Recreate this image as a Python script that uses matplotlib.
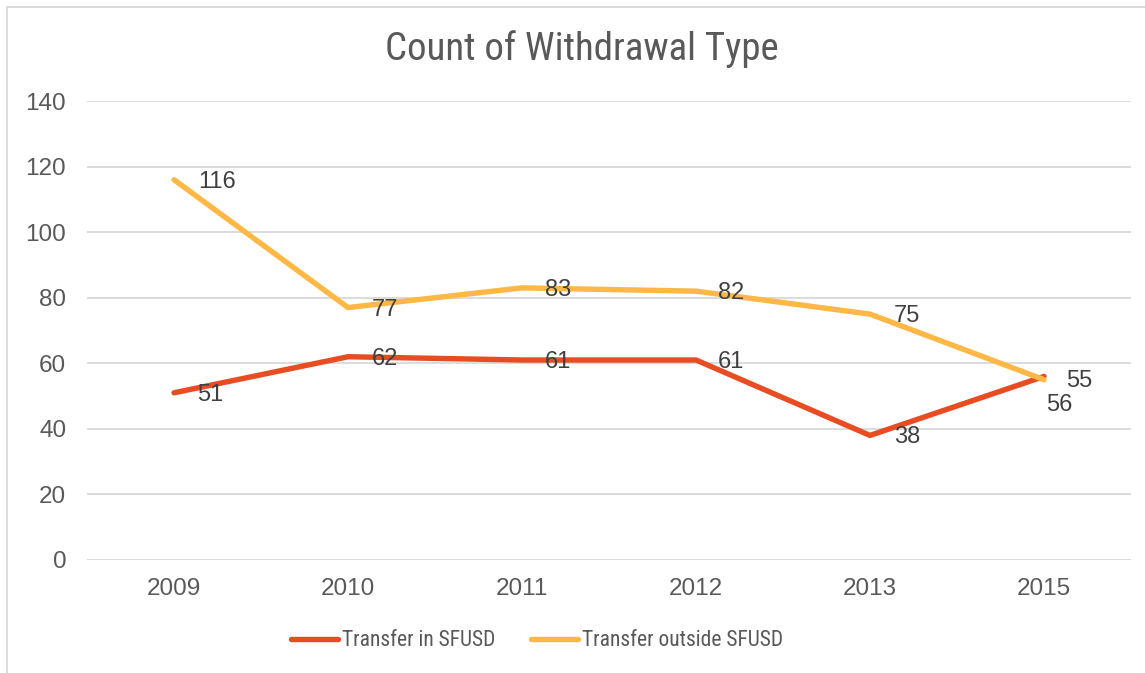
import matplotlib
matplotlib.use("Agg")
import matplotlib.pyplot as plt
from matplotlib.patches import Rectangle
from matplotlib import font_manager

years = ["2009", "2010", "2011", "2012", "2013", "2015"]
transfer_in = [51, 62, 61, 61, 38, 56]
transfer_out = [116, 77, 83, 82, 75, 55]
series_names = ["Transfer in SFUSD", "Transfer outside SFUSD"]
yticks = [0, 20, 40, 60, 80, 100, 120, 140]

C_IN = "#E84C22"
C_OUT = "#FFB845"
TXT = "#595959"
GRID = "#D9D9D9"

names = {f.name for f in font_manager.fontManager.ttflist}
narrow = None
for cand in ["Liberation Sans Narrow", "Roboto Condensed", "Open Sans Condensed", "Arial Narrow"]:
    if cand in names:
        narrow = cand
        break
narrow_scale = 1.0
if narrow is None:
    narrow = "Roboto"
    narrow_scale = 0.92
regular = "Liberation Sans" if "Liberation Sans" in names else "DejaVu Sans"

W, H = 1145, 673
fig = plt.figure(figsize=(W / 100, H / 100), dpi=100)
fig.patch.set_facecolor("white")
fig.patches.append(Rectangle((7 / W, -0.1), 1.2, 1 - 7 / H + 0.1, transform=fig.transFigure,
                             fill=False, edgecolor=GRID, lw=1.3))

L, R, T, B = 87, 1131, 101, 560
ax = fig.add_axes([L / W, 1 - B / H, (R - L) / W, (B - T) / H])
x = list(range(len(years)))
ax.plot(x, transfer_in, color=C_IN, lw=3.9, solid_capstyle="round", solid_joinstyle="round",
        label=series_names[0], zorder=3)
ax.plot(x, transfer_out, color=C_OUT, lw=3.9, solid_capstyle="round", solid_joinstyle="round",
        label=series_names[1], zorder=3)

ax.set_xlim(-0.5, len(years) - 0.5)
ax.set_ylim(0, 140)
ax.set_yticks(yticks)
ax.set_xticks(x)
ax.set_xticklabels(years)
ax.grid(axis="y", color=GRID, lw=1.3)
ax.set_axisbelow(True)
for s in ax.spines.values():
    s.set_visible(False)
ax.tick_params(length=0, colors=TXT, labelsize=17.5)
ax.tick_params(axis="y", pad=15)
ax.tick_params(axis="x", pad=13)
for lab in ax.get_xticklabels() + ax.get_yticklabels():
    lab.set_fontfamily(regular)

# data labels (pixel offsets)
off_in = [(23, -2), (24, -2), (23, -2), (22, -2), (24, -2), (2, -29)]
off_out = [(24, -2), (24, -2), (23, -2), (22, -2), (24, -2), (22, -1)]
for xs, ys, offs in ((x, transfer_in, off_in), (x, transfer_out, off_out)):
    for xi, yi, (dx, dy) in zip(xs, ys, offs):
        ax.annotate(str(yi), (xi, yi), xytext=(dx * 0.72, dy * 0.72), textcoords="offset points",
                    ha="left", va="center", fontsize=17, color="#404040", family=regular, zorder=4)

fig.text(582 / W, 1 - 49 / H, "Count of Withdrawal Type", ha="center", va="center",
         fontsize=28 * narrow_scale, color=TXT, family=narrow)

fs_leg = 15.5 * narrow_scale
leg = fig.legend(loc="center", bbox_to_anchor=(537 / W, 1 - 641 / H), ncol=2, frameon=False,
                 handlelength=47 / (fs_leg / 0.72), handletextpad=4 / (fs_leg / 0.72),
                 columnspacing=36 / (fs_leg / 0.72),
                 prop={"family": narrow, "size": fs_leg})
for t in leg.get_texts():
    t.set_color(TXT)

fig.savefig("out.png", dpi=100, facecolor="white")
